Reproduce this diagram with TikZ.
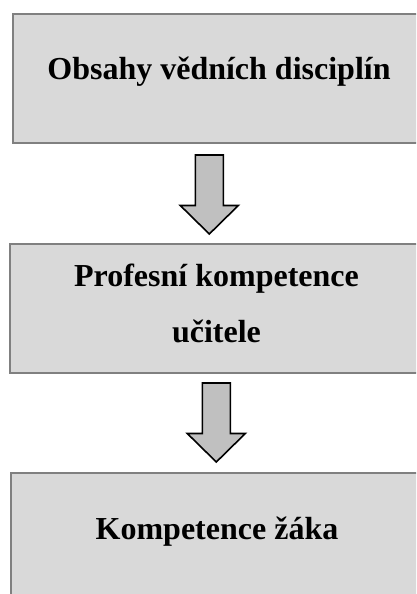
\documentclass[tikz,border=0pt]{standalone}
\usepackage{fontspec}
\setmainfont{Liberation Serif}
\definecolor{boxgray}{RGB}{217, 217, 217}
\definecolor{edgegray}{RGB}{128, 128, 128}
\definecolor{arrowgray}{RGB}{192, 192, 192}
\usetikzlibrary{positioning, calc}

\tikzset{
  stagebox/.style={draw=edgegray, fill=boxgray, line width=2pt, minimum width=413pt, minimum height=129pt, inner sep=0pt},
  stagetext/.style={font=\bfseries\fontsize{32}{56}\selectfont, align=center, inner sep=0pt, anchor=base},
  downarrow/.pic={
    \draw[draw=black, fill=arrowgray, line width=1.6pt, line join=miter]
      (-14,0) -- (14,0) -- (14,50.5) -- (29,50.5) -- (0,79) -- (-29,50.5) -- (-14,50.5) -- cycle;
  }
}

\begin{document}
\begin{tikzpicture}[x=1pt, y=-1pt]
  \useasboundingbox (0,0) rectangle (416,594);
  \clip (0,0) rectangle (416,594);

  % Boxes
  \node[stagebox] (obsahy) at (219, 78.5) {};
  \node[stagebox] (ucitel) at (216.5, 308.5) {};
  \node[stagebox] (zak) at (217, 537) {};

  % Texts
  \node[stagetext] (obsahyT) at ($(obsahy.center)+(0,1.5)$) {Obsahy vědních disciplín};
  \node[stagetext] (ucitelT) at ($(ucitel.center)+(0,33.5)$) {Profesní kompetence\\učitele};
  \node[stagetext] (zakT) at ($(zak.center)+(0,2)$) {Kompetence žáka};

  % Arrows
  \pic at ($(obsahy.south)+(-9.7,11)$) {downarrow};
  \pic at ($(ucitel.south)+(-0.2,9)$) {downarrow};
\end{tikzpicture}
\end{document}
